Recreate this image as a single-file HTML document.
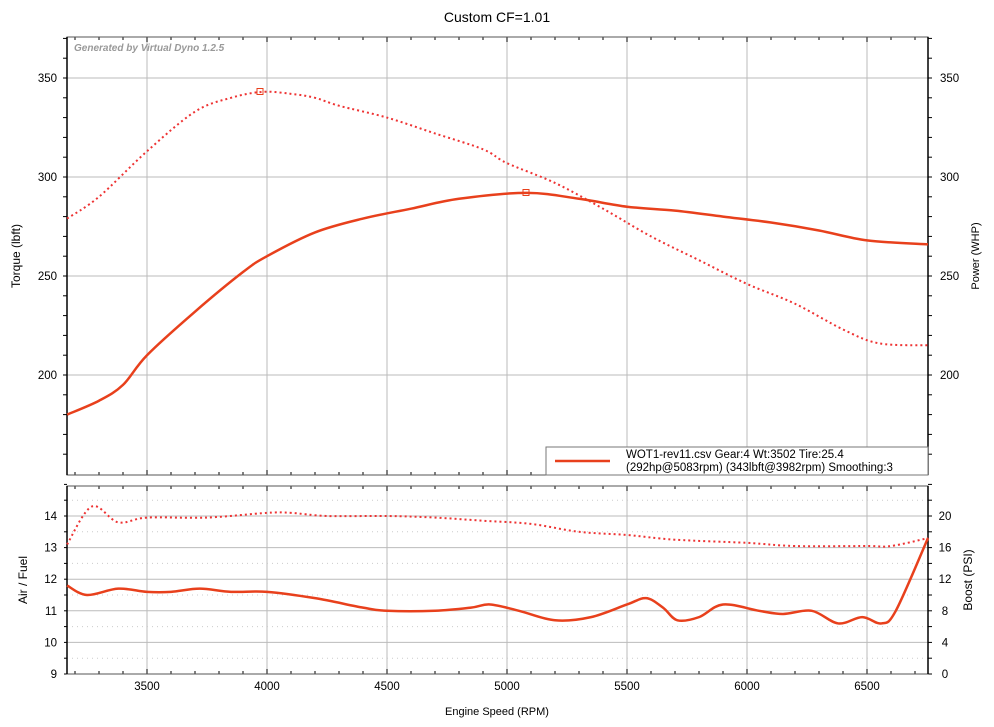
<!DOCTYPE html><html><head><style>body{margin:0;background:#fff}svg{display:block;font-family:"Liberation Sans",sans-serif}</style></head><body>
<svg id="s" width="994" height="727" xmlns="http://www.w3.org/2000/svg">
<rect width="994" height="727" fill="#fff"/>
<text x="497" y="22" text-anchor="middle" font-size="14">Custom CF=1.01</text>
<g id="grid"></g>
<text x="74" y="51" font-size="10" font-style="italic" font-weight="bold" fill="#999">Generated by Virtual Dyno 1.2.5</text>
<g id="curves" fill="none" stroke="#e8401c"></g>
<rect x="257" y="88.5" width="6" height="6" fill="none" stroke="#e8401c"/>
<rect x="523" y="189.5" width="6" height="6" fill="none" stroke="#e8401c"/>
<rect x="546" y="447" width="382" height="28" fill="#fff" stroke="#777"/>
<line x1="555" y1="461" x2="610" y2="461" stroke="#e8401c" stroke-width="2.5"/>
<text x="626" y="458" font-size="11.5">WOT1-rev11.csv Gear:4 Wt:3502 Tire:25.4</text>
<text x="626" y="471" font-size="11.5">(292hp@5083rpm) (343lbft@3982rpm) Smoothing:3</text>
<text transform="translate(20,256) rotate(-90)" text-anchor="middle" font-size="12">Torque (lbft)</text>
<text transform="translate(979,256) rotate(-90)" text-anchor="middle" font-size="11">Power (WHP)</text>
<text transform="translate(27,580) rotate(-90)" text-anchor="middle" font-size="12">Air / Fuel</text>
<text transform="translate(972,580) rotate(-90)" text-anchor="middle" font-size="12">Boost (PSI)</text>
<text x="497" y="715" text-anchor="middle" font-size="11">Engine Speed (RPM)</text>
</svg>
<script>
const NS="http://www.w3.org/2000/svg",g=document.getElementById('grid'),cv=document.getElementById('curves');
function el(p,t,a,txt){const e=document.createElementNS(NS,t);for(const k in a)e.setAttribute(k,a[k]);if(txt!=null)e.textContent=txt;p.appendChild(e);return e}
const X=r=>147+(r-3500)*0.24, L=67,R=928;
const YT=v=>78+(350-v)*1.98, YB=a=>674-(a-9)*31.6;
const T0=37,T1=475,B0=486,B1=674;
// top grid
for(const v of [200,250,300,350]){el(g,'line',{x1:L,x2:R,y1:YT(v),y2:YT(v),stroke:'#bbb'});
el(g,'text',{x:L-10,y:YT(v)+4,'text-anchor':'end','font-size':11.5},v);el(g,'text',{x:R+12,y:YT(v)+4,'font-size':11.5},v);}
for(let v=160;v<=370;v+=10){const y=YT(v);if(y<T0||y>T1)continue;el(g,'line',{x1:L-4,x2:L,y1:y,y2:y,stroke:'#000'});el(g,'line',{x1:R,x2:R+4,y1:y,y2:y,stroke:'#000'});}
for(let r=3500;r<=6500;r+=500){el(g,'line',{x1:X(r),x2:X(r),y1:T0,y2:T1,stroke:'#bbb'});el(g,'line',{x1:X(r),x2:X(r),y1:B0,y2:B1,stroke:'#bbb'});
el(g,'text',{x:X(r),y:690,'text-anchor':'middle','font-size':11.5},r);}
for(let r=3200;r<=6700;r+=100){const x=X(r),h=r%500?3:5;for(const y of [T0,T1,B0,B1]){el(g,'line',{x1:x,x2:x,y1:(y==T0||y==B0)?y:y-h,y2:(y==T0||y==B0)?y+h:y,stroke:'#000'})}}
// bottom grid
for(let a=9.5;a<15;a+=1)el(g,'line',{x1:L,x2:R,y1:YB(a),y2:YB(a),stroke:'#ccc','stroke-dasharray':'1 4'});
for(let a=9;a<=14;a++){el(g,'line',{x1:L,x2:R,y1:YB(a),y2:YB(a),stroke:'#bbb'});el(g,'text',{x:L-10,y:YB(a)+4,'text-anchor':'end','font-size':11.5},a);
el(g,'text',{x:R+17,y:YB(a)+4,'text-anchor':'middle','font-size':11.5},(a-9)*4);}
for(let a=9;a<=15;a+=0.5){el(g,'line',{x1:L-3,x2:L,y1:YB(a),y2:YB(a),stroke:'#000'});el(g,'line',{x1:R,x2:R+4,y1:YB(a),y2:YB(a),stroke:'#000'});}
for(const [y0,y1] of [[T0,T1],[B0,B1]]){el(g,'rect',{x:L,y:y0,width:R-L,height:y1-y0,fill:'none',stroke:'#555'});el(g,'line',{x1:L,x2:L,y1:y0,y2:y1,stroke:'#000','stroke-width':1.5});el(g,'line',{x1:R,x2:R,y1:y0,y2:y1,stroke:'#000','stroke-width':1.5});}
function path(pts,fy,dash){const P=pts.map(p=>[X(p[0]),fy(p[1])]);let d='M'+P[0];
for(let i=0;i<P.length-1;i++){const p0=P[i-1]||P[i],p1=P[i],p2=P[i+1],p3=P[i+2]||p2;
d+=` C${p1[0]+(p2[0]-p0[0])/6},${p1[1]+(p2[1]-p0[1])/6} ${p2[0]-(p3[0]-p1[0])/6},${p2[1]-(p3[1]-p1[1])/6} ${p2[0]},${p2[1]}`}
const a={d:d,'stroke-width':dash?2:2.5};if(dash){a['stroke-dasharray']='2 3';a.stroke='#e33'}el(cv,'path',a)}
path([[3167,279],[3300,290],[3500,313],[3700,333],[3850,340],[3982,343],[4100,342],[4200,340],[4300,336],[4500,330],[4700,322],[4900,314],[5000,307],[5200,297],[5400,284],[5600,270],[5800,258],[6000,246],[6200,236],[6400,223],[6550,216],[6754,215]],YT,1);
path([[3167,180],[3300,187],[3400,195],[3500,210],[3700,232],[3900,252],[4000,260],[4200,272],[4400,279],[4600,284],[4800,289],[5083,292],[5300,289],[5500,285],[5700,283],[5900,280],[6100,277],[6300,273],[6500,268],[6754,266]],YT,0);
path([[3167,11.8],[3250,11.5],[3380,11.7],[3500,11.6],[3600,11.6],[3720,11.7],[3850,11.6],[4000,11.6],[4200,11.4],[4400,11.1],[4500,11.0],[4700,11.0],[4850,11.1],[4930,11.2],[5050,11.0],[5200,10.7],[5350,10.8],[5500,11.2],[5580,11.4],[5650,11.1],[5710,10.7],[5800,10.8],[5900,11.2],[6050,11.0],[6150,10.9],[6270,11.0],[6380,10.6],[6480,10.8],[6560,10.6],[6620,11.0],[6754,13.3]],YB,0);
path([[3167,13.1],[3270,14.3],[3380,13.8],[3500,13.95],[3750,13.95],[4000,14.1],[4100,14.1],[4250,14.0],[4500,14.0],[4700,13.95],[4900,13.85],[5100,13.75],[5300,13.5],[5500,13.4],[5700,13.25],[6000,13.15],[6200,13.05],[6500,13.05],[6600,13.05],[6754,13.3]],YB,1);
</script></body></html>
